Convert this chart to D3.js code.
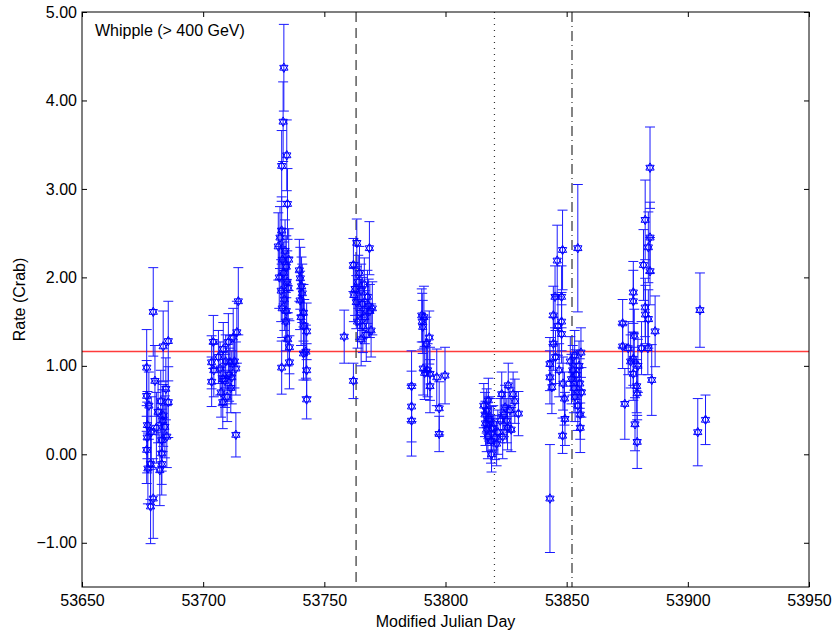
<!DOCTYPE html>
<html><head><meta charset="utf-8">
<script src="https://cdn.jsdelivr.net/npm/d3@7"></script>
<style>body{margin:0;background:#fff}svg{display:block}text{font-family:"Liberation Sans",Arial,sans-serif}</style>
</head><body><svg id="c" width="834" height="631"></svg>
<script>
// MJD of each observation
const mjd = [
53676.7,53676.7,53677.0,53676.9,53676.7,53677.2,53677.6,53678.3,53678.3,53678.6,53679.4,53679.4,53680.1,53680.7,53681.4,53682.1,53682.5,53682.9,53682.9,53682.9,53683.3,53683.5,53683.5,53684.2,53684.6,53685.0,53685.6,53685.6,
53703.5,53703.5,53704.2,53704.4,53706.3,53707.0,53707.4,53708.1,53708.1,53708.3,53709.0,53709.3,53709.9,53710.4,53710.7,53711.1,53711.4,53711.8,53712.4,53712.9,53713.5,53713.5,53713.9,53714.5,
53733.3,53733.0,53734.5,53732.4,53734.8,53732.4,53731.0,53731.7,53732.7,53733.2,53733.8,53734.3,53734.7,53732.2,53733.5,53735.1,53732.6,53734.3,53731.4,53735.3,53734.1,53732.4,53735.6,53735.6,53734.9,
53739.7,53740.1,53740.6,53740.0,53740.9,53741.4,53740.4,53741.7,53742.7,53741.4,53742.4,53742.7,53742.7,
53758.2,53762.0,53763.4,53762.0,53762.7,53762.2,53763.2,53764.0,53764.5,53764.7,53765.2,53765.7,53765.9,53766.5,53766.7,53767.3,53767.8,53768.6,53768.3,53768.8,53769.3,53769.8,53765.2,53763.7,
53786.0,53786.0,53786.0,53790.2,53790.6,53790.4,53790.8,53791.4,53791.1,53793.3,53792.1,53793.6,53793.6,53792.6,53796.4,53797.4,53797.4,53799.8,
53815.8,53816.3,53816.5,53817.0,53817.0,53817.5,53817.7,53818.0,53818.4,53818.8,53819.0,53819.0,53819.7,53820.4,53821.1,53821.6,53822.6,53823.2,53823.6,53824.1,53824.6,53825.3,53825.6,53825.9,53826.6,53827.1,53827.9,53828.6,53830.1,
53843.1,53843.1,53843.1,53843.9,53844.5,53844.5,53845.2,53845.4,53846.1,53846.4,53846.9,53847.9,53847.9,53847.9,53848.3,53848.5,53848.3,53849.1,53849.3,53851.5,53852.0,53852.5,53853.0,53853.3,53853.5,53854.0,53854.6,53854.6,53855.1,53855.4,53855.6,53855.6,53855.9,53856.1,
53873.1,53873.1,53874.0,53875.4,53876.4,53877.5,53877.5,53877.9,53877.5,53877.5,53878.2,53878.9,53879.1,53879.1,53879.4,53880.9,53881.7,53882.4,53882.4,53882.5,53883.7,53883.7,53883.5,53884.4,53884.4,53884.4,53885.1,53886.5,
53904.1,53905.0,53907.3];
// Rate in Crab units
const rate = [
0.98,0.66,0.33,0.19,0.05,-0.16,0.55,-0.11,-0.59,0.25,1.61,-0.50,0.83,0.30,0.48,-0.18,0.60,0.16,0.01,-0.11,0.38,1.22,0.44,0.31,0.74,0.20,1.28,0.59,
1.04,0.82,1.27,0.95,1.10,0.97,0.70,0.59,0.85,1.19,0.83,1.05,0.65,1.27,0.90,1.04,0.75,0.87,1.32,1.05,0.97,0.22,1.38,1.73,
4.37,3.76,3.38,3.26,2.83,2.53,2.35,2.45,2.20,2.05,2.30,2.12,1.95,1.85,1.75,1.88,1.65,1.62,2.00,2.20,1.50,0.98,1.21,1.04,1.30,
2.08,1.99,1.90,1.74,1.82,1.60,1.55,1.45,1.39,1.14,1.16,0.95,0.62,
1.33,0.83,2.39,2.14,1.87,1.80,1.72,1.95,2.05,1.60,1.85,1.70,1.45,1.92,1.55,1.35,1.78,2.33,1.68,1.62,1.40,1.65,1.30,1.50,
0.77,0.54,0.38,1.57,1.44,1.50,0.97,0.92,1.55,1.32,1.25,0.91,0.77,0.95,0.87,0.52,0.23,0.89,
0.55,0.45,0.35,0.49,0.28,0.20,0.61,0.40,0.38,0.15,0.29,0.00,0.30,0.19,0.12,0.25,0.38,0.68,0.20,0.45,0.53,0.38,0.30,0.78,0.50,0.28,0.68,0.60,0.46,
-0.50,1.02,0.87,0.76,1.57,1.25,1.78,1.10,2.19,1.45,0.95,1.78,1.50,1.36,2.31,0.80,0.21,0.63,0.40,1.05,0.85,0.95,0.75,1.12,0.65,0.90,2.33,0.55,1.00,0.80,0.45,0.30,1.15,0.70,
1.48,1.22,0.57,1.20,1.05,1.83,1.73,1.34,1.08,0.91,0.34,0.77,0.69,0.14,1.00,1.20,2.14,2.65,1.66,1.58,2.34,1.53,1.20,3.24,2.45,2.07,0.84,1.39,
0.25,1.63,0.39];
// 1-sigma error
const err = [
0.43,0.40,0.38,0.40,0.38,0.40,0.38,0.40,0.42,0.40,0.50,0.45,0.40,0.40,0.35,0.40,0.35,0.35,0.35,0.35,0.35,0.40,0.35,0.35,0.35,0.35,0.45,0.40,
0.30,0.28,0.30,0.30,0.30,0.30,0.28,0.30,0.30,0.30,0.30,0.30,0.28,0.32,0.30,0.30,0.28,0.30,0.33,0.30,0.30,0.25,0.35,0.38,
0.49,0.45,0.40,0.40,0.40,0.38,0.38,0.35,0.35,0.35,0.35,0.35,0.35,0.35,0.35,0.35,0.33,0.33,0.35,0.35,0.33,0.30,0.30,0.30,0.30,
0.35,0.35,0.33,0.33,0.33,0.32,0.32,0.30,0.32,0.30,0.30,0.30,0.22,
0.30,0.20,0.27,0.30,0.30,0.30,0.30,0.30,0.30,0.30,0.30,0.30,0.30,0.30,0.30,0.30,0.30,0.30,0.30,0.30,0.30,0.30,0.30,0.30,
0.40,0.40,0.40,0.30,0.30,0.32,0.30,0.30,0.35,0.30,0.30,0.30,0.30,0.30,0.32,0.30,0.20,0.32,
0.25,0.25,0.25,0.25,0.25,0.25,0.25,0.25,0.25,0.25,0.25,0.20,0.25,0.25,0.25,0.25,0.25,0.25,0.25,0.25,0.25,0.25,0.25,0.25,0.25,0.25,0.25,0.25,0.25,
0.61,0.30,0.30,0.30,0.33,0.30,0.35,0.30,0.40,0.33,0.30,0.35,0.33,0.33,0.45,0.30,0.20,0.30,0.30,0.28,0.28,0.28,0.28,0.28,0.28,0.28,0.72,0.28,0.28,0.28,0.28,0.28,0.28,0.28,
0.27,0.25,0.40,0.30,0.30,0.35,0.35,0.30,0.30,0.30,0.30,0.30,0.30,0.30,0.30,0.30,0.40,0.45,0.33,0.33,0.40,0.33,0.30,0.46,0.40,0.38,0.40,0.40,
0.38,0.42,0.28];
const xTicks = [53650,53700,53750,53800,53850,53900,53950];
const yTicks = [-1,0,1,2,3,4,5];
const meanRate = 1.163;
const markerLines = [{mjd:53763.1, dash:"10,6"},{mjd:53820.2, dash:"1,5"},{mjd:53852.2, dash:"10,4,1,4"}];
const label = "Whipple (> 400 GeV)";

const svg = d3.select("#c");
const L=82,R=809,T=12,B=587;
const x = d3.scaleLinear().domain([53650,53950]).range([L,R]);
const y = d3.scaleLinear().domain([-1.5,5]).range([B,T]);
const fmt = v => (v<0?"\u2212":"")+Math.abs(v).toFixed(2);

// axes
svg.append("g").attr("transform",`translate(0,${B})`)
  .call(d3.axisBottom(x).tickValues(xTicks).tickSize(-5).tickPadding(8).tickFormat(d3.format("d")))
  .call(g=>{g.select(".domain").remove();g.selectAll("text").attr("font-size",16).attr("fill","#000");});
svg.append("g").attr("transform",`translate(0,${T})`)
  .call(d3.axisTop(x).tickValues(xTicks).tickSize(-5).tickFormat(""))
  .call(g=>g.select(".domain").remove());
svg.append("g").attr("transform",`translate(${L},0)`)
  .call(d3.axisLeft(y).tickValues(yTicks).tickSize(-5).tickPadding(5).tickFormat(fmt))
  .call(g=>{g.select(".domain").remove();g.selectAll("text").attr("font-size",16).attr("fill","#000");});
svg.append("g").attr("transform",`translate(${R},0)`)
  .call(d3.axisRight(y).tickValues(yTicks).tickSize(-5).tickFormat(""))
  .call(g=>g.select(".domain").remove());

const plot = svg.append("g");
// mean line
plot.append("line").attr("x1",L).attr("x2",R).attr("y1",y(meanRate)).attr("y2",y(meanRate))
  .attr("stroke","#ff3b3b").attr("stroke-width",1.6);
// vertical markers
markerLines.forEach(m=>plot.append("line").attr("x1",x(m.mjd)).attr("x2",x(m.mjd)).attr("y1",T).attr("y2",B)
  .attr("stroke","#333").attr("stroke-width",1.2).attr("stroke-dasharray",m.dash));

const data = mjd.map((d,i)=>({x:d,y:rate[i],e:err[i]}));
const eb = plot.append("g").attr("stroke","#1a1aff").attr("stroke-width",1).attr("fill","none");
data.forEach(d=>{
  const cx=x(d.x), y1=y(d.y+d.e), y2=y(d.y-d.e);
  eb.append("line").attr("x1",cx).attr("x2",cx).attr("y1",y1).attr("y2",y2);
  eb.append("line").attr("x1",cx-5).attr("x2",cx+5).attr("y1",y1).attr("y2",y1);
  eb.append("line").attr("x1",cx-5).attr("x2",cx+5).attr("y1",y2).attr("y2",y2);
});
const r=4.8;
const tri = a0 => [0,1,2].map(k=>{const a=(a0+k*120)*Math.PI/180;return [r*Math.cos(a),r*Math.sin(a)];});
const hex = "M"+tri(-90).join("L")+"Z M"+tri(90).join("L")+"Z";
plot.append("g").selectAll("path").data(data).join("path")
  .attr("d",hex).attr("transform",d=>`translate(${x(d.x)},${y(d.y)})`)
  .attr("fill","none").attr("stroke","#0000ff").attr("stroke-width",1);

// frame
svg.append("rect").attr("x",L).attr("y",T).attr("width",R-L).attr("height",B-T)
  .attr("fill","none").attr("stroke","#000").attr("stroke-width",1);

svg.append("text").attr("x",95).attr("y",36).attr("font-size",16).text(label);
svg.append("text").attr("x",(L+R)/2).attr("y",627).attr("text-anchor","middle").attr("font-size",16).text("Modified Julian Day");
svg.append("text").attr("transform",`translate(25,${(T+B)/2}) rotate(-90)`).attr("text-anchor","middle").attr("font-size",16).text("Rate (Crab)");
</script></body></html>
